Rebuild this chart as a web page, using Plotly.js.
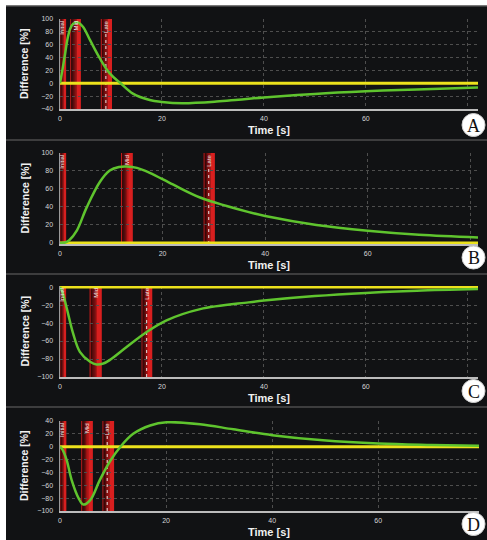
<!DOCTYPE html>
<html>
<head>
<meta charset="utf-8">
<script src="https://cdn.plot.ly/plotly-3.0.1.min.js"></script>
<style>html,body{margin:0;padding:0;background:#fff;}#chart{width:487px;height:540px;}</style>
</head>
<body>
<div id="chart"></div>
<script>
// ---------- DATA ----------
const panelLetters = ['A', 'B', 'C', 'D'];
const bandLabels = ['Initial', 'Mid', 'Late'];
const xTickVals = [0, 20, 40, 60, 80];
const xTickText = ['0', '20', '40', '60', ''];

const timeA = [0, 0.5, 1, 1.5, 2, 2.6, 3.4, 4.5, 5.9, 7.8, 9.8, 11.9, 14.3, 17.6, 20, 24, 30.7, 35, 40, 50, 60, 70, 82];
const diffA = [0, 22, 46, 70, 85, 92.5, 95, 88, 67, 39, 15, 0, -16, -26, -29, -31, -28.5, -25.5, -22, -16.5, -12.5, -9.5, -6.5];

const timeB = [0, 1, 1.8, 3.3, 5.2, 7.8, 9.7, 11.5, 13, 15, 17.5, 22, 27.3, 32.5, 37, 40, 50, 60, 70, 81.5];
const diffB = [0, 0.5, 3, 14, 39.5, 68, 80.5, 84.5, 85, 83.5, 78, 65, 50.5, 41, 34, 30, 20, 13.5, 9, 6];

const timeC = [0, 0.5, 1.3, 2.6, 3.9, 5.9, 7.2, 8.5, 9.8, 13, 17, 20.9, 27.5, 37, 40, 50, 60, 70, 82];
const diffC = [0, -6, -23, -52, -72, -83, -86, -85, -81, -67, -50, -37, -24.5, -17, -15, -10, -6.5, -4, -2.2];

const timeD = [0, 0.5, 1.26, 2.2, 3.5, 4.4, 5.7, 7.5, 9.4, 11.4, 13.8, 17, 20.1, 26.4, 32.7, 40, 49.6, 60, 70, 79];
const diffD = [0, -5, -21, -52, -80, -90, -83, -52, -23, 0, 20, 33, 38, 35, 27, 18, 10, 5, 2.8, 1.5];

const bandStartA = [0, 2.0, 8.0];   const bandEndA = [1.2, 4.1, 10.2];  const lateMarkA = 9.0;
const bandStartB = [0, 11.9, 28.0]; const bandEndB = [1.2, 14.2, 30.2]; const lateMarkB = 29.0;
const bandStartC = [0, 5.8, 16.0];  const bandEndC = [1.2, 8.2, 18.1];  const lateMarkC = 17.0;
const bandStartD = [0, 4.0, 8.0];   const bandEndD = [1.2, 6.2, 10.2];  const lateMarkD = 8.9;

const xMaxA = 82, xMaxB = 81.5, xMaxC = 82, xMaxD = 79;
const yRangeA = [-40, 100], yRangeB = [0, 100], yRangeC = [-100, 0], yRangeD = [-100, 40];

// ---------- LAYOUT HELPERS ----------
const W = 487, H = 540;
const px = v => v / W;
const py = v => 1 - v / H;

const panels = [
  {t: timeA, d: diffA, bs: bandStartA, be: bandEndA, lm: lateMarkA, xmax: xMaxA, yr: yRangeA, top: 6,   bot: 140, pt: 19,  pb: 109, pr: 478, title: 130, circ: 125},
  {t: timeB, d: diffB, bs: bandStartB, be: bandEndB, lm: lateMarkB, xmax: xMaxB, yr: yRangeB, top: 140, bot: 274, pt: 153, pb: 244, pr: 478, title: 265, circ: 257.5},
  {t: timeC, d: diffC, bs: bandStartC, be: bandEndC, lm: lateMarkC, xmax: xMaxC, yr: yRangeC, top: 274, bot: 407, pt: 286, pb: 377, pr: 478, title: 398, circ: 391},
  {t: timeD, d: diffD, bs: bandStartD, be: bandEndD, lm: lateMarkD, xmax: xMaxD, yr: yRangeD, top: 407, bot: 540, pt: 421, pb: 511, pr: 479, title: 532, circ: 524}
];

const traces = [];
const shapes = [];
const annotations = [];
const layout = {
  width: W, height: H,
  margin: {l: 0, r: 0, t: 0, b: 0, pad: 0},
  paper_bgcolor: '#ffffff',
  plot_bgcolor: 'rgba(0,0,0,0)',
  showlegend: false,
  font: {family: 'Liberation Sans, Arial, sans-serif', color: '#d8d8d8'}
};

const gradColors = ['#3a0707', '#560a0a', '#760e0e', '#981212', '#b81616'];

panels.forEach((p, i) => {
  const n = i + 1;
  const xa = 'x' + (n === 1 ? '' : n), ya = 'y' + (n === 1 ? '' : n);
  const xKey = 'xaxis' + (n === 1 ? '' : n), yKey = 'yaxis' + (n === 1 ? '' : n);

  shapes.push({type: 'rect', xref: 'paper', yref: 'paper', x0: px(6), x1: 1, y0: py(p.bot), y1: py(p.top),
    fillcolor: '#111214', line: {width: 0}, layer: 'below'});
  shapes.push({type: 'line', xref: 'paper', yref: 'paper', x0: px(6), x1: 1, y0: py(p.top), y1: py(p.top),
    line: {color: '#4c4c4c', width: 1.5}, layer: 'below'});

  let yr = p.yr.slice();
  if (yr[0] === 0) yr[0] = -1.2;
  if (yr[1] === 0) yr[1] = 1.2;

  layout[xKey] = {
    domain: [px(60), px(p.pr)], anchor: ya, range: [0, p.xmax],
    tickmode: 'array', tickvals: xTickVals, ticktext: xTickText,
    showgrid: true, gridcolor: '#4e4e4e', griddash: 'dot', gridwidth: 1,
    zeroline: false, showline: true, linecolor: '#bcbcbc', linewidth: 1.5,
    ticks: 'outside', ticklen: 2, tickcolor: 'rgba(0,0,0,0)',
    tickfont: {size: 7, color: '#d6d6d6'}, layer: 'below traces', fixedrange: true
  };
  layout[yKey] = {
    domain: [py(p.pb), py(p.pt)], anchor: xa, range: yr,
    tickmode: 'linear', tick0: 0, dtick: 20,
    showgrid: true, gridcolor: '#4e4e4e', griddash: 'dot', gridwidth: 1,
    zeroline: false, showline: true, linecolor: '#9a9a9a', linewidth: 1.5,
    ticks: 'outside', ticklen: 4, tickcolor: 'rgba(0,0,0,0)',
    tickfont: {size: 7, color: '#d6d6d6'}, layer: 'below traces', fixedrange: true
  };

  p.bs.forEach((a, k) => {
    const b = p.be[k], w = b - a;
    const base = {type: 'rect', xref: xa, yref: ya + ' domain', y0: 0, y1: 1, line: {width: 0}, layer: 'below'};
    shapes.push(Object.assign({}, base, {x0: a, x1: a + 0.1 * w, fillcolor: '#c81b1b'}));
    gradColors.forEach((c, g) => {
      shapes.push(Object.assign({}, base, {x0: a + (0.1 + 0.1 * g) * w, x1: a + (0.2 + 0.1 * g) * w, fillcolor: c}));
    });
    shapes.push(Object.assign({}, base, {x0: a + 0.6 * w, x1: b, fillcolor: '#d81f1f'}));
    const lx = k === 2 ? p.lm : (k === 0 ? a + 0.3 * w : a + 0.5 * w);
    annotations.push({xref: xa, yref: ya + ' domain', x: lx, y: 1, xanchor: 'center', yanchor: 'top',
      text: bandLabels[k], textangle: -90, showarrow: false,
      font: {size: 6, color: '#f2f2f2', family: 'Liberation Sans, Arial, sans-serif'}});
  });
  shapes.push({type: 'line', xref: xa, yref: ya + ' domain', x0: p.lm, x1: p.lm, y0: 0, y1: 0.85,
    line: {color: '#e8e8e8', width: 1, dash: 'dot'}, layer: 'below'});

  traces.push({x: [p.t[0], p.t[p.t.length - 1]], y: [0, 0], xaxis: xa, yaxis: ya, type: 'scatter', mode: 'lines',
    line: {color: '#ece21c', width: 3}, hoverinfo: 'skip'});
  traces.push({x: p.t, y: p.d, xaxis: xa, yaxis: ya, type: 'scatter', mode: 'lines',
    line: {color: '#5fc42e', width: 2.5, shape: 'spline', smoothing: 1}, hoverinfo: 'skip'});

  annotations.push({xref: 'paper', yref: 'paper', x: px(24), y: py((p.pt + p.pb) / 2), xanchor: 'center', yanchor: 'middle',
    text: 'Difference [%]', textangle: -90, showarrow: false,
    font: {size: 10.5, color: '#f0f0f0', family: 'Liberation Sans, Arial, sans-serif', weight: 'bold'}});
  annotations.push({xref: 'paper', yref: 'paper', x: px(269), y: py(p.title), xanchor: 'center', yanchor: 'middle',
    text: 'Time [s]', showarrow: false,
    font: {size: 11, color: '#f0f0f0', family: 'Liberation Sans, Arial, sans-serif', weight: 'bold'}});

  shapes.push({type: 'circle', xref: 'paper', yref: 'paper', x0: px(462), x1: px(485), y0: py(p.circ + 11.5), y1: py(p.circ - 11.5),
    fillcolor: '#ffffff', line: {color: '#cfcfcf', width: 1}, layer: 'above'});
  annotations.push({xref: 'paper', yref: 'paper', x: px(473.5), y: py(p.circ + 0.5), xanchor: 'center', yanchor: 'middle',
    text: panelLetters[i], showarrow: false,
    font: {size: 18, color: '#111111', family: 'Liberation Serif, Times New Roman, serif'}});
});

layout.shapes = shapes;
layout.annotations = annotations;

Plotly.newPlot('chart', traces, layout, {staticPlot: true, displayModeBar: false});
</script>
</body>
</html>
